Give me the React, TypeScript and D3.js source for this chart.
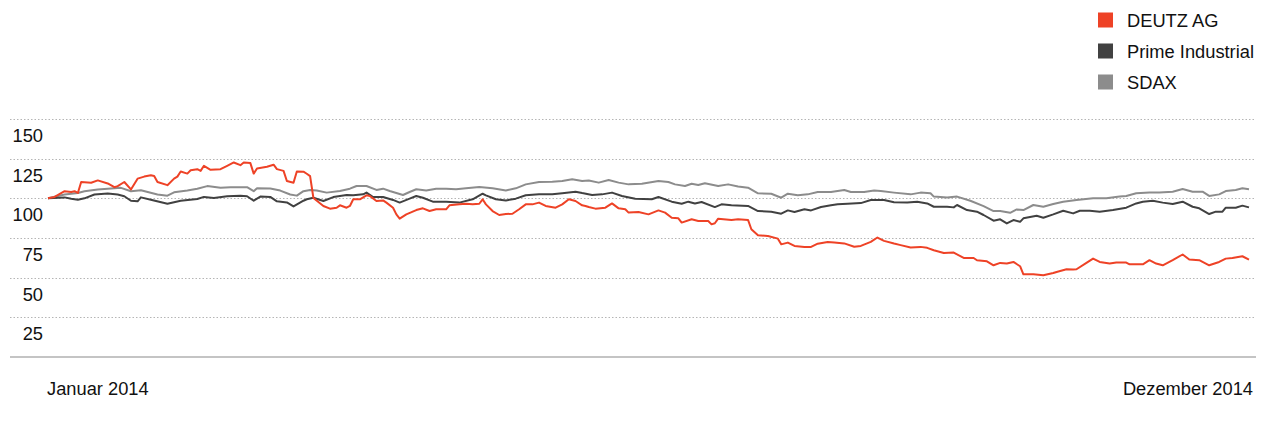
import React from "react";
import * as d3 from "d3";

// day offsets (days since 2 Jan 2014) and index values (start = 100)
const deutzDays = [0,2,5,7,8,9,10,13,15,18,20,21,23,25,27,29,31,32,33,36,38,39,40,42,43,45,46,47,49,52,54,56,58,59,61,62,63,66,68,69,71,72,74,75,77,78,79,80,83,85,87,88,90,91,92,94,96,97,99,101,102,104,105,106,108,111,113,115,117,120,121,124,126,128,130,131,132,134,136,138,140,142,144,146,148,150,153,155,157,159,161,162,163,165,168,170,172,174,175,178,181,184,186,188,190,191,194,196,199,200,201,202,206,208,211,212,214,217,220,221,223,225,228,230,232,235,237,240,243,245,248,250,252,255,257,260,263,265,267,270,273,276,279,280,283,285,287,289,291,293,294,297,300,303,304,307,309,310,313,315,317,320,322,325,326,330,332,334,336,339,342,344,347,350,353,355,357,360,362];
const deutzValues = [100,100.9,104.5,104,104.5,103.4,110.3,109.8,111.3,109.4,107,107.7,110.3,105.6,112.4,113.7,114.5,114.1,110.3,108.3,112.4,113.7,116.9,115.6,117.7,118.4,117.3,120.5,118,118.4,120.5,122.6,120.9,122.6,122.2,115.6,118.8,119.9,121.2,118.4,117.3,110.9,109.8,116.9,116.8,115.5,114,100.2,95.2,93.5,94.1,95.6,94.1,95.2,99.4,99.4,101.9,101.5,98.3,98.7,97.3,94.1,89.9,87.2,89.9,92.6,93.7,92,93.1,93.1,95.6,96.2,96.6,96.2,96.6,99.4,96.2,92,89.5,90.1,90.3,93.1,96.2,96.2,97.3,95.2,94.1,96.2,99.4,98.3,95.6,95.2,94.5,93.5,94.1,96.8,93.7,93.1,91,91.4,89.9,92.4,91,87.8,87.4,84.7,86.8,85.7,85.7,83.6,84.3,87.2,86.4,86.8,86.4,80.5,76.7,76.3,74.6,71,72.1,70,69.4,69.4,71.4,72.5,72.1,71.6,69.5,70,72.6,75.3,73.2,71.5,70.5,69,69.4,68.8,67.3,65.6,65.8,62.4,62.4,61,60.3,57.8,59.3,58.9,59.9,57.2,52.1,52.1,51.5,52.9,53.6,55.3,55.1,55.3,59.3,62,59.9,58.9,59.5,59.5,58.4,58.4,61,58.9,57.8,61,64.6,61.4,61,57.8,59.9,62,62.4,63.5,61.4];

const primeDays = [0,5,7,9,11,14,18,21,23,25,27,28,31,36,40,45,47,50,54,58,60,62,64,67,69,72,74,77,78,80,83,86,87,90,92,95,96,98,101,104,106,109,111,113,116,120,124,128,131,132,135,138,141,144,148,152,155,159,161,164,167,170,173,177,182,184,188,191,193,195,197,201,203,206,211,214,218,221,223,225,228,230,233,236,238,241,245,248,252,255,259,262,265,267,271,273,274,277,280,282,285,287,289,291,293,294,298,300,303,306,309,311,314,317,321,325,328,330,333,336,339,342,345,347,350,352,354,355,358,360,362];
const primeValues = [100,100.6,99.8,99.1,100,102.4,103,102.4,101.3,98.5,98.1,100.6,99.1,96.6,98.5,99.6,100.9,100.2,101.3,101.7,101.3,98.5,101.1,100.9,98.1,97.4,94.9,98.5,99.4,100.4,98.3,100.8,101.1,102.1,101.9,102.5,103.6,100.8,100.8,99,97.3,99.8,101.5,100.4,97.9,97.9,97.3,99.4,102.9,101.9,99.4,98.7,99.8,101.9,102.5,102.5,103.2,104.2,103.3,102.1,102.5,103.6,101.5,99.8,99.4,100.8,97.9,96.6,97.9,96.8,97.7,94.5,96.2,95.6,95.2,92,91.6,90.3,92.4,91.4,93.1,92.4,94.5,95.6,96.2,96.6,97,98.9,98.9,97.5,97.3,97.9,96.8,94.7,94.7,94.3,95.8,92.6,91.6,89.5,85.9,86.8,84.2,86.3,85.2,87.4,89,87.8,89.9,92.2,90.5,92.2,92.2,91.6,92.6,94.1,96.8,97.9,98.5,97.3,96.4,97.9,94.7,93.7,90.1,91.6,91.6,94.1,94.1,95.4,94.3];

const sdaxDays = [0,5,9,11,15,19,22,25,28,33,36,38,42,45,48,52,55,60,62,63,67,70,73,75,77,79,81,84,88,91,93,96,99,101,103,107,109,111,114,117,120,123,126,130,134,138,141,144,148,152,155,158,161,163,166,169,172,175,179,184,187,189,192,194,196,198,202,205,208,211,214,218,221,223,226,229,232,236,240,242,246,249,251,255,260,263,266,267,271,274,278,282,285,287,290,292,294,297,300,303,306,310,315,319,323,325,328,332,335,339,342,345,348,350,353,355,358,360,362];
const sdaxValues = [100,102.4,103.4,104.5,105.6,106.2,106.6,104.5,105.1,102.4,101.7,103.8,104.9,106,107.7,106.6,107,107,104.5,106.4,106.2,104.9,102.4,101.7,104.5,105.3,105,103.6,104.6,106.1,107.8,107.8,105.3,106.1,104.6,102.1,104,105.7,105,106.1,106.1,105.7,106.3,107.1,106.3,105,106.3,108.8,110.3,110.5,110.9,112,110.9,111.3,109.9,111.6,109.9,108.8,109.2,110.9,110.3,108.8,107.8,109.2,108.4,109.5,107.8,108.8,107.4,106.7,103.2,102.9,100.4,102.9,101.9,102.5,104,104,105.3,104,104,105,104.6,103.6,102.5,103.6,103.2,101.1,100.6,101.1,98.5,95.1,92,92,90.9,93,92.6,95.8,94.7,96.4,97.9,98.9,100,100,101.1,101.5,103.2,103.6,103.6,104.2,105.9,104.2,104.2,101.5,102.5,104.6,105.3,106.3,105.7];

const seriesNames = ["DEUTZ AG", "Prime Industrial", "SDAX"];
const seriesColors = ["#ee4226", "#414141", "#8c8c8c"];
const yTicks = [25, 50, 75, 100, 125, 150];
const xLabels = ["Januar 2014", "Dezember 2014"];

const W = 1270;
const H = 434;
const FONT = "'Liberation Sans', Arial, Helvetica, sans-serif";
const FS = 18.3;

export default function App() {
  const x = d3.scaleLinear().domain([0, 362]).range([48, 1249]);
  const y = d3.scaleLinear().domain([0, 150]).range([357, 119]);
  const line = d3
    .line<[number, number]>()
    .x((d) => x(d[0]))
    .y((d) => y(d[1]));

  const series = [
    { days: deutzDays, values: deutzValues },
    { days: primeDays, values: primeValues },
    { days: sdaxDays, values: sdaxValues },
  ];
  const drawOrder = [2, 1, 0];

  return (
    <svg
      width={W}
      height={H}
      style={{ position: "absolute", left: 0, top: 0, display: "block" }}
      fontFamily={FONT}
    >
      <rect x={0} y={0} width={W} height={H} fill="#fff" />
      {/* legend */}
      {seriesNames.map((name, i) => {
        const cy = 20 + i * 31;
        return (
          <g key={name}>
            <rect x={1098} y={cy - 7.5} width={15} height={15} fill={seriesColors[i]} />
            <text x={1127} y={cy + 6.5} fontSize={FS} fill="#111">
              {name}
            </text>
          </g>
        );
      })}
      {/* grid */}
      {yTicks.map((t) => (
        <g key={t}>
          <line
            x1={10}
            x2={1256}
            y1={Math.round(y(t)) + 0.5}
            y2={Math.round(y(t)) + 0.5}
            stroke="#b5b5b5"
            strokeWidth={1}
            strokeDasharray="1.5,2"
          />
          <text x={43} y={y(t) + 23} fontSize={FS} textAnchor="end" fill="#111">
            {t}
          </text>
        </g>
      ))}
      <line x1={10} x2={1256} y1={357} y2={357} stroke="#c4c4c4" strokeWidth={2} />
      {/* lines */}
      {drawOrder.map((i) => {
        const s = series[i];
        const pts = s.days.map((d, k) => [d, s.values[k]] as [number, number]);
        return (
          <path
            key={i}
            d={line(pts) || ""}
            fill="none"
            stroke={seriesColors[i]}
            strokeWidth={2}
            strokeLinejoin="round"
          />
        );
      })}
      {/* x labels */}
      <text x={47} y={395} fontSize={FS} fill="#111">
        {xLabels[0]}
      </text>
      <text x={1253} y={395} fontSize={FS} textAnchor="end" fill="#111">
        {xLabels[1]}
      </text>
    </svg>
  );
}
